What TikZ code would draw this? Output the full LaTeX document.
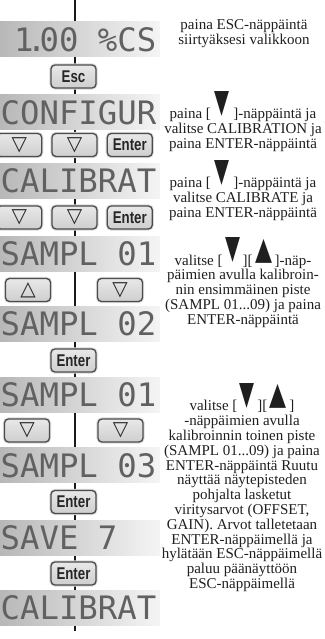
\documentclass[tikz,border=0pt]{standalone}
\usepackage{fontspec}
\usepackage{graphicx}
\setmainfont{Liberation Serif}
\newfontfamily\lcdfont{DejaVu Sans Mono}
\newfontfamily\keyfont[FakeStretch=0.78]{Liberation Sans}
\newfontfamily\symfont{DejaVu Sans}
\usetikzlibrary{positioning}

% filled arrow marks standing above the text line
\newcommand{\tridn}{\smash{\raisebox{2pt}{\resizebox*{15pt}{25pt}{\raisebox{\depth}{\symfont ▼}}}}}
\newcommand{\triup}{\smash{\raisebox{2pt}{\resizebox*{17pt}{24pt}{\raisebox{\depth}{\symfont ▲}}}}}

\begin{document}
\begin{tikzpicture}[
        x=1pt, y=-1pt,
        node distance=9pt,
        lcd/.style={rectangle, minimum width=160pt, minimum height=35pt, inner sep=0pt,
            left color=black!28, right color=black!4},
        lcdtext/.style={anchor=base west, inner sep=0pt, text=black!62,
            font=\lcdfont\fontsize{32.3pt}{33pt}\selectfont},
        keybtn/.style={rectangle, rounded corners=4pt, draw=black!70, line width=1.3pt,
            top color=black!9, bottom color=black!19, minimum width=45pt, minimum height=23pt,
            inner sep=0pt, text=black!85, font=\keyfont\bfseries\fontsize{17pt}{17pt}\selectfont,
            preaction={draw=black!15, line width=3.2pt}},
        arrowbtn/.style={keybtn, font=\symfont\fontsize{20pt}{20pt}\selectfont},
        note/.style={align=center, inner sep=0pt, text=black!88,
            font=\fontsize{15pt}{14.8pt}\selectfont},
        spine/.style={line width=2.4pt, draw=black!90}
    ]
    \path[use as bounding box, clip] (0,0) rectangle (324,639);

    % Signal path behind the displays
    \coordinate (top) at (75,0);
    \coordinate (bot) at (75,631);
    \draw[spine] (top) -- (bot);

    % Displays
    \node[lcd] (main) at (80,39.5) {};
    \node[lcdtext] (mainT) at (0.5,51.5) {\hspace*{13.5pt}1\makebox[6pt]{.}00\ \%CS};
    \node[lcd] (cfg) at (80,112.5) {};
    \node[lcdtext] (cfgT) at (0.5,124.5) {CONFIGUR};
    \node[lcd] (cal) at (80,181) {};
    \node[lcdtext] (calT) at (0.5,193) {CALIBRAT};
    \node[lcd] (smpA) at (80,253.5) {};
    \node[lcdtext] (smpAT) at (0.5,265.5) {SAMPL 01};
    \node[lcd] (smpB) at (80,323.5) {};
    \node[lcdtext] (smpBT) at (0.5,335.5) {SAMPL 02};
    \node[lcd] (smpC) at (80,394.5) {};
    \node[lcdtext] (smpCT) at (0.5,406.5) {SAMPL 01};
    \node[lcd] (smpD) at (80,465) {};
    \node[lcdtext] (smpDT) at (0.5,477) {SAMPL 03};
    \node[lcd] (save) at (80,537.5) {};
    \node[lcdtext] (saveT) at (0.5,549.5) {SAVE 7};
    \node[lcd] (calEnd) at (80,607.5) {};
    \node[lcdtext] (calEndT) at (0.5,619.5) {CALIBRAT};

    % Keys
    \node[keybtn] (esc) at (73.5,76.5) {Esc};
    \node[arrowbtn] (dnB1) at (74.5,145) {▽};
    \node[arrowbtn, left=of dnB1] (dnA1) {▽};
    \node[keybtn, right=of dnB1] (ent1) {Enter};
    \node[arrowbtn] (dnB2) at (74.5,217.5) {▽};
    \node[arrowbtn, left=of dnB2] (dnA2) {▽};
    \node[keybtn, right=of dnB2] (ent2) {Enter};
    \node[arrowbtn] (up3) at (28,290) {△};
    \node[arrowbtn] (dn3) at (120,290) {▽};
    \node[keybtn] (ent3) at (73.5,360.5) {Enter};
    \node[arrowbtn] (dnA4) at (27,430.5) {▽};
    \node[arrowbtn] (dnB4) at (120.5,430.5) {▽};
    \node[keybtn] (ent4) at (73.5,502) {Enter};
    \node[keybtn] (ent5) at (73.5,573.5) {Enter};

    % Instructions
    \node[note] (txtEsc) at (244,34) {paina ESC-näppäintä\\siirtyäksesi valikkoon};
    \node[note] (txtCfg) at (243,130) {paina [ \tridn\ ]-näppäintä ja\\valitse CALIBRATION ja\\paina ENTER-näppäintä};
    \node[note] (txtCal) at (243,199) {paina [ \tridn\ ]-näppäintä ja\\valitse CALIBRATE ja\\paina ENTER-näppäintä};
    \node[note] (txtSmpA) at (243,291) {valitse [\,\tridn\,][\,\triup\,]-näp-\\päimien avulla kalibroin-\\nin ensimmäinen piste\\(SAMPL 01...09) ja paina\\ENTER-näppäintä};
    \node[note] (txtSmpB) at (242,496) {valitse [\,\tridn\,][\,\triup\,]\\-näppäimien avulla\\kalibroinnin toinen piste\\(SAMPL 01...09) ja paina\\ENTER-näppäintä Ruutu\\näyttää näytepisteden\\pohjalta lasketut\\viritysarvot (OFFSET,\\GAIN). Arvot talletetaan\\ENTER-näppäimellä ja\\hylätään ESC-näppäimellä\\paluu päänäyttöön\\ESC-näppäimellä};
\end{tikzpicture}
\end{document}
